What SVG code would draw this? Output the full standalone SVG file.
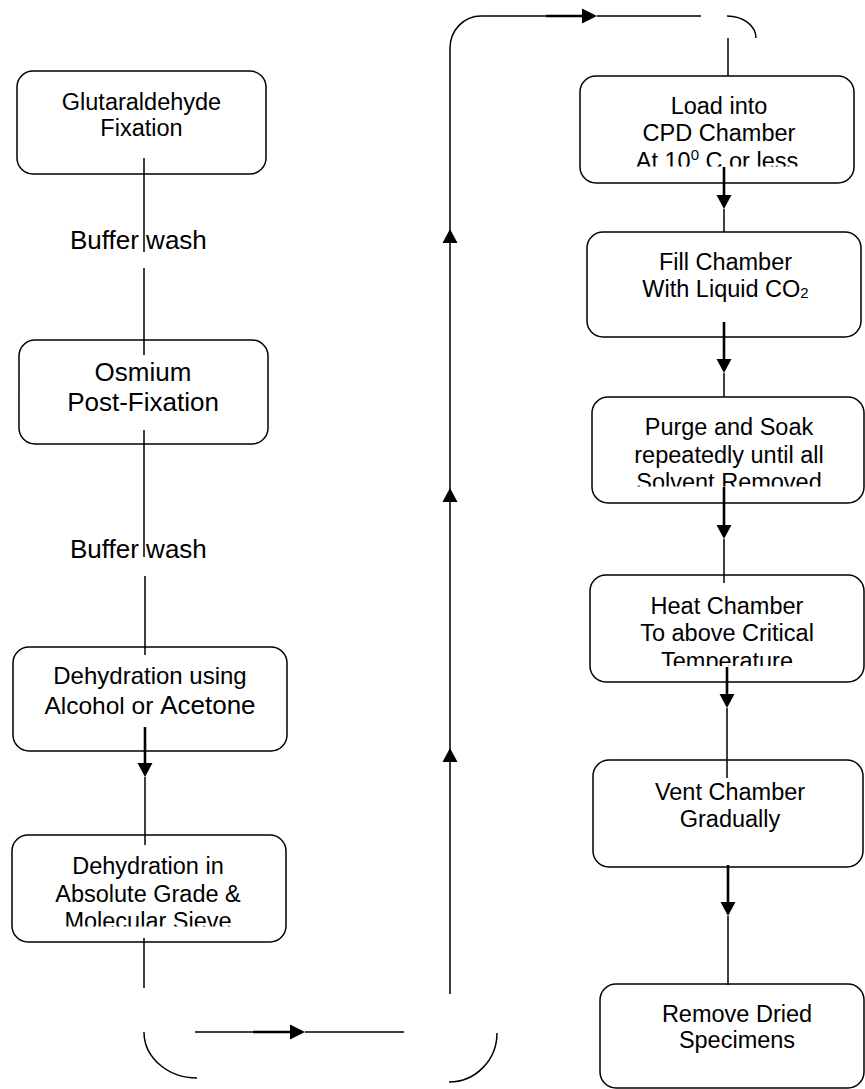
<svg xmlns="http://www.w3.org/2000/svg" xmlns:xlink="http://www.w3.org/1999/xlink" width="865" height="1089" viewBox="0 0 865 1089">
<style>
.box{fill:#fff;stroke:#000;stroke-width:1.5}
.t{font-family:"Liberation Sans",Arial,sans-serif;font-size:23.5px;fill:#000;text-anchor:middle}
.tb{font-family:"Liberation Sans",Arial,sans-serif;font-size:26px;fill:#000}
.ln{fill:none;stroke:#000;stroke-width:1.5}
.th{fill:none;stroke:#000;stroke-width:2.6}
.ah{fill:#000;stroke:none}
</style>
<defs>
<path id="dn" d="M-7.5,-14 L7.5,-14 L0,0 Z"/>
<path id="up" d="M-7.5,14 L7.5,14 L0,0 Z"/>
<path id="rt" d="M-15,-7.5 L-15,7.5 L0,0 Z"/>
<clipPath id="c4"><rect x="0" y="830" width="300" height="96.5"/></clipPath>
<clipPath id="c5"><rect x="570" y="70" width="295" height="96.5"/></clipPath>
<clipPath id="c7"><rect x="580" y="390" width="285" height="96.5"/></clipPath>
<clipPath id="c8"><rect x="580" y="570" width="285" height="96"/></clipPath>
</defs>

<g id="n1">
<rect class="box" x="17" y="71" width="249" height="103" rx="16"/>
<text class="t" x="141.5" y="110">Glutaraldehyde</text>
<text class="t" x="141.5" y="136">Fixation</text>
</g>
<g id="bw1"><text class="tb" x="70" y="249">Buffer wash</text></g>
<g id="n2">
<rect class="box" x="19" y="340" width="249" height="104" rx="16"/>
<text class="t" x="143" y="381" style="font-size:26px">Osmium</text>
<text class="t" x="143" y="411" style="font-size:26px">Post-Fixation</text>
</g>
<g id="bw2"><text class="tb" x="70" y="558">Buffer wash</text></g>
<g id="n3">
<rect class="box" x="13" y="647" width="274" height="104" rx="16"/>
<text class="t" x="150" y="684" style="font-size:24px">Dehydration using</text>
<text class="t" x="150" y="714" style="font-size:24.5px">Alcohol or <tspan style="font-size:26px">Acetone</tspan></text>
</g>
<g id="n4">
<rect class="box" x="12" y="835" width="274" height="107" rx="16"/>
<g clip-path="url(#c4)">
<text class="t" x="148" y="874">Dehydration in</text>
<text class="t" x="148" y="902">Absolute Grade &amp;</text>
<text class="t" x="148" y="929">Molecular Sieve</text>
</g>
</g>
<g id="n5">
<rect class="box" x="580" y="76" width="274" height="107" rx="16"/>
<g clip-path="url(#c5)">
<text class="t" x="719" y="114">Load into</text>
<text class="t" x="719" y="141">CPD Chamber</text>
<text class="t" x="717" y="168.5">At 10<tspan dy="-9" style="font-size:15px">0</tspan><tspan dy="9"> C or less</tspan></text>
</g>
</g>
<g id="n6">
<rect class="box" x="587" y="232" width="274" height="105" rx="16"/>
<text class="t" x="725.5" y="270">Fill Chamber</text>
<text class="t" x="725.5" y="297">With Liquid CO<tspan dy="1" style="font-size:15px">2</tspan></text>
</g>
<g id="n7">
<rect class="box" x="592" y="397" width="272" height="106" rx="16"/>
<g clip-path="url(#c7)">
<text class="t" x="729" y="435">Purge and Soak</text>
<text class="t" x="729" y="463">repeatedly until all</text>
<text class="t" x="729" y="489.5">Solvent Removed</text>
</g>
</g>
<g id="n8">
<rect class="box" x="590" y="575" width="274" height="107" rx="16"/>
<g clip-path="url(#c8)">
<text class="t" x="727" y="614">Heat Chamber</text>
<text class="t" x="727" y="641">To above Critical</text>
<text class="t" x="727" y="668.5">Temperature</text>
</g>
</g>
<g id="n9">
<rect class="box" x="593" y="760" width="270" height="107" rx="16"/>
<text class="t" x="730" y="800">Vent Chamber</text>
<text class="t" x="730" y="827">Gradually</text>
</g>
<g id="n10">
<rect class="box" x="600" y="984" width="264" height="104" rx="16"/>
<text class="t" x="737" y="1022">Remove Dried</text>
<text class="t" x="737" y="1048">Specimens</text>
</g>

<g id="connectors">
<path class="ln" d="M144,158 V252 M144,268 V355 M144,430 V557 M145,576 V655"/>
<path class="th" d="M145,727 V764"/>
<use xlink:href="#dn" class="ah" x="145" y="777"/>
<path class="ln" d="M145,777 V845"/>
<path class="ln" d="M144,938 V988"/>
<path class="ln" d="M144,1032 A53,46 0 0 0 197,1078"/>
<path class="ln" d="M195,1032 H253 M305,1032 H404"/>
<path class="th" d="M253,1032 H291"/>
<use xlink:href="#rt" class="ah" x="305" y="1032"/>
<path class="ln" d="M497,1033 A48,49 0 0 1 449,1082"/>
<path class="ln" d="M450,994 V48 A31,32 0 0 1 481,16 H546 M597,16 H701"/>
<use xlink:href="#up" class="ah" x="450" y="229"/>
<use xlink:href="#up" class="ah" x="450" y="488"/>
<use xlink:href="#up" class="ah" x="450" y="748"/>
<path class="th" d="M546,16 H583"/>
<use xlink:href="#rt" class="ah" x="597" y="16"/>
<path class="ln" d="M727,16 A29,22 0 0 1 756,38"/>
<path class="ln" d="M728,38 V76"/>
<path class="th" d="M724,167 V196"/>
<use xlink:href="#dn" class="ah" x="724" y="209"/>
<path class="ln" d="M724,209 V232"/>
<path class="th" d="M724,322 V359"/>
<use xlink:href="#dn" class="ah" x="724" y="373"/>
<path class="ln" d="M724,373 V397"/>
<path class="th" d="M724,487 V526"/>
<use xlink:href="#dn" class="ah" x="724" y="539"/>
<path class="ln" d="M724,539 V583"/>
<path class="th" d="M727,667 V696"/>
<use xlink:href="#dn" class="ah" x="727" y="708"/>
<path class="ln" d="M727,708 V778"/>
<path class="th" d="M728,865 V903"/>
<use xlink:href="#dn" class="ah" x="728" y="916"/>
<path class="ln" d="M728,916 V985"/>
</g>
</svg>
